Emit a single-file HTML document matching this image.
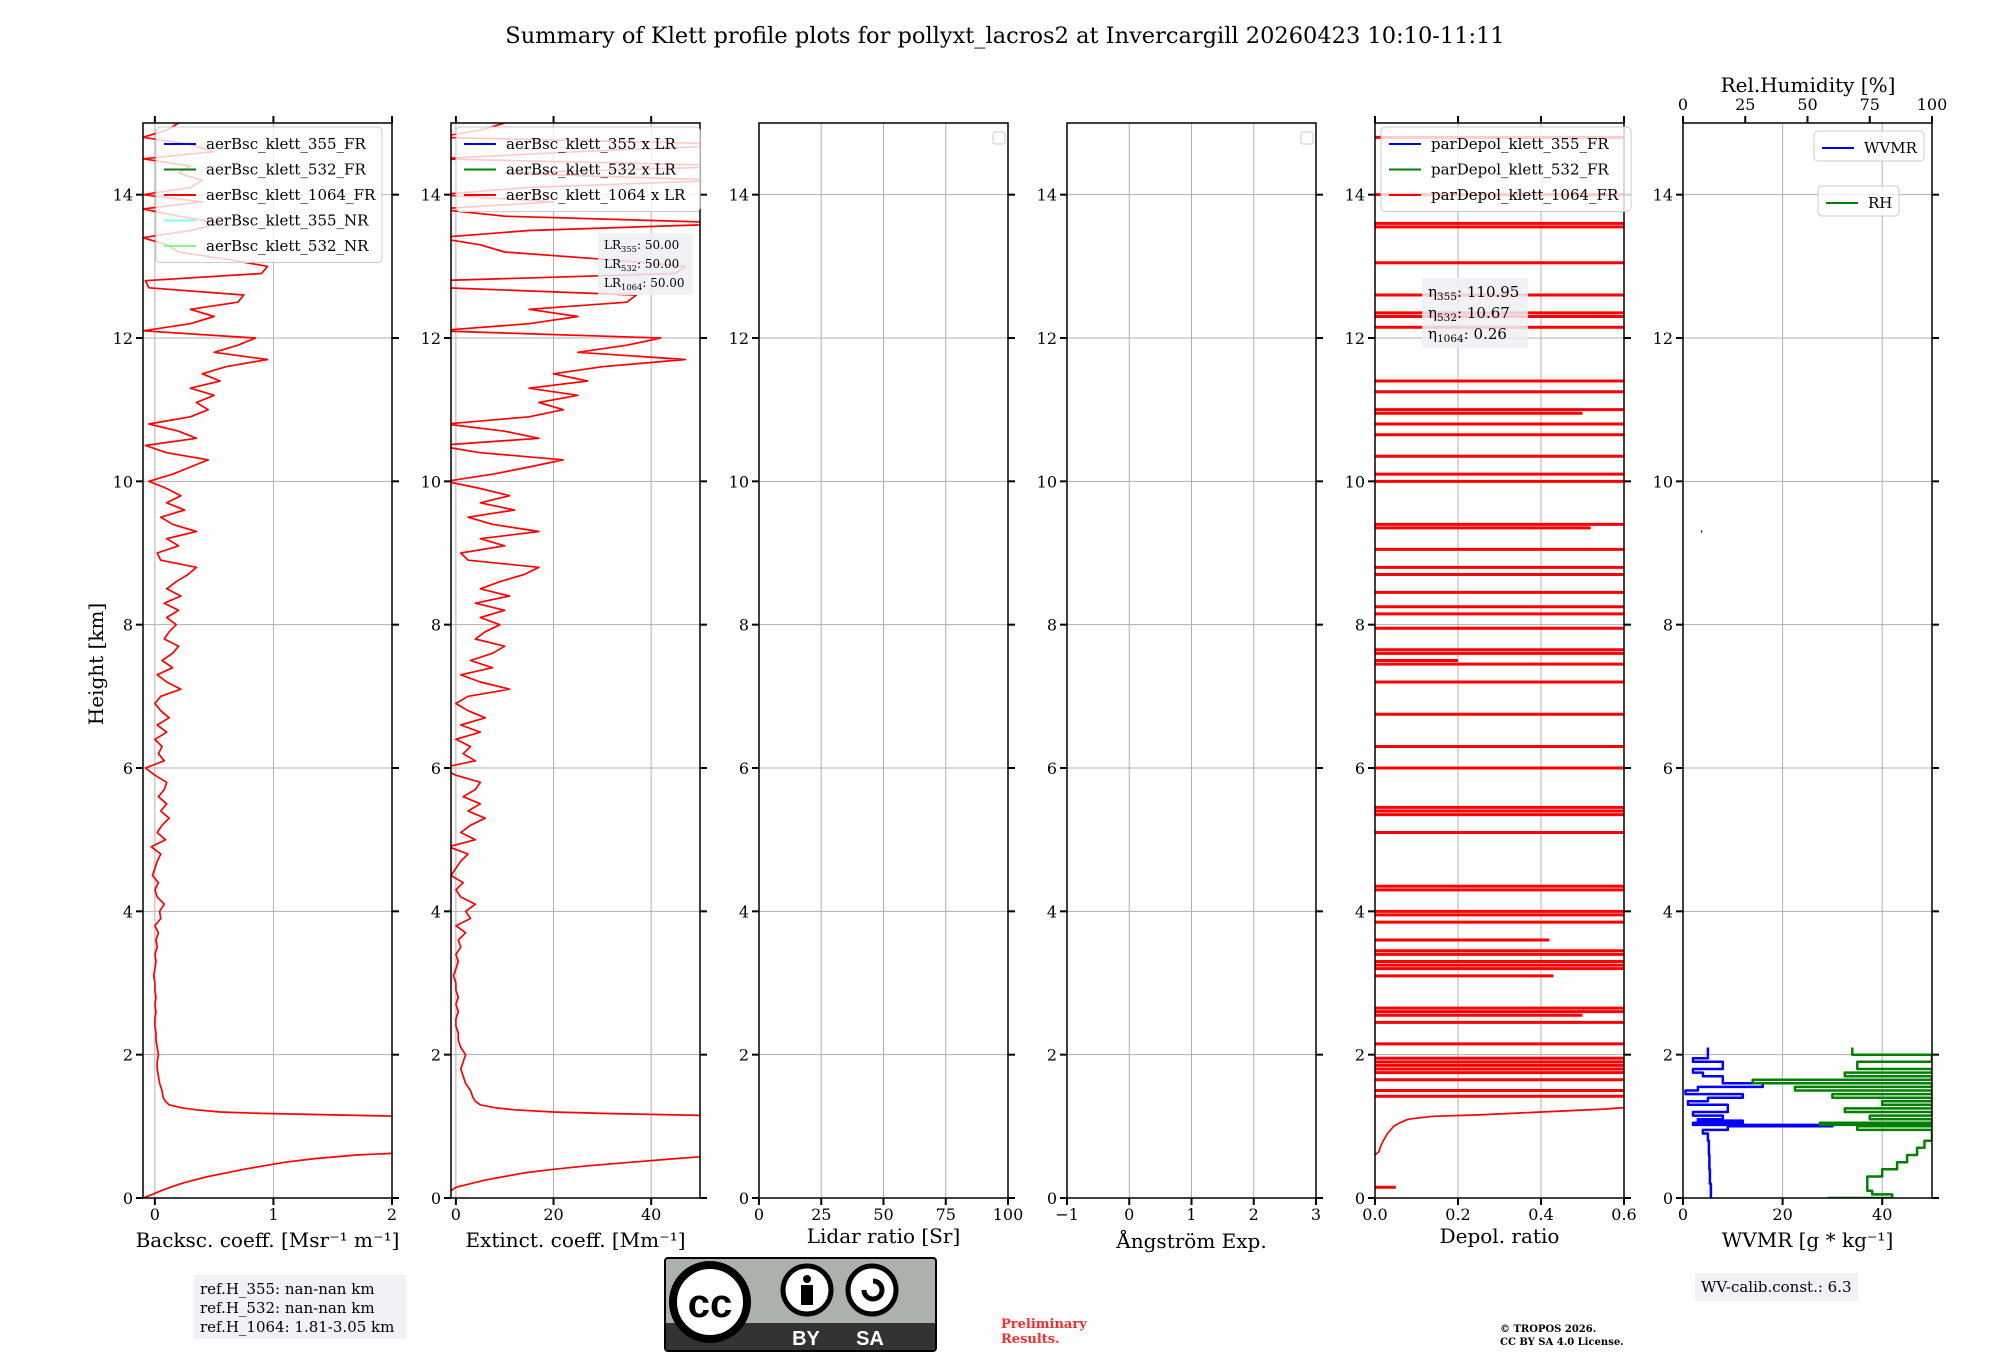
<!DOCTYPE html>
<html><head><meta charset="utf-8">
<style>
html,body{margin:0;padding:0;background:#fff;}
svg{display:block;font-family:"DejaVu Serif","Liberation Serif",serif;}
</style></head>
<body>
<svg id="fig" width="2000" height="1360" viewBox="0 0 2000 1360" xmlns="http://www.w3.org/2000/svg">
<text x="1005" y="43" font-size="22.5" text-anchor="middle">Summary of Klett profile plots for pollyxt_lacros2 at Invercargill 20260423 10:10-11:11</text>
<text transform="translate(103,664) rotate(-90)" font-size="20" text-anchor="middle">Height [km]</text>
</svg>
<script>
// ---- data ----
const heightTicks = [0,2,4,6,8,10,12,14];
const lowH = [0,0.05,0.1,0.15,0.2,0.25,0.3,0.35,0.4,0.45,0.5,0.55,0.6,0.63,1.14,1.16,1.18,1.2,1.23,1.26,1.3,1.35,1.4,1.5,1.6,1.7,1.8,1.9];
const lowBsc = [-0.1,-0.02,0.05,0.13,0.22,0.33,0.45,0.6,0.75,0.92,1.1,1.35,1.7,2.1,2.1,1.5,0.9,0.55,0.35,0.22,0.12,0.09,0.07,0.06,0.04,0.03,0.02,0.02];
const lowExt = [-5,-3,-1,0,3,6,10,14,20,27,36,45,55,60,60,45,30,20,12,8,5,4,3.5,3,2,1.5,1,1.5];
const upBsc = [0.03,0.02,0.01,0.01,0.0,0.0,0.01,0.0,0.01,0.0,
 0.0,-0.01,0.0,0.01,0.0,0.02,0.01,0.03,0.0,0.05,
 0.04,0.08,0.02,0.0,0.03,-0.02,0.0,0.02,0.05,-0.03,
 0.09,0.02,0.06,0.12,0.05,0.1,0.03,0.08,0.1,0.0,
 -0.08,0.08,0.03,0.06,0.0,0.1,0.02,0.12,0.05,0.0,
 0.05,0.22,0.1,0.02,0.15,0.06,0.15,0.2,0.08,0.12,
 0.18,0.1,0.2,0.08,0.22,0.1,0.18,0.28,0.35,0.05,
 0.02,0.2,0.1,0.35,0.15,0.05,0.25,0.1,0.22,0.1,
 -0.05,0.15,0.3,0.45,0.1,-0.08,0.35,0.2,-0.05,0.3,
 0.45,0.35,0.5,0.3,0.55,0.4,0.6,0.95,0.5,0.7,
 0.85,-0.1,0.3,0.5,0.3,0.7,0.75,-0.05,-0.08,0.9,
 0.95,0.6,0.2,0.1,-0.1,0.3,0.55,0.2,-0.1,0.4,
 -0.1,0.3,0.4,0.2,0.3,-0.1,0.5,0.3,-0.1,0.1,0.2];
const upExt = [2,1,0.5,0.5,0,0,0.5,0,0.5,0,
 0,-0.5,0,0.5,0,1,0.5,2,0,3,
 2,4,1,0,1.5,-1,0,1,2.5,-1.5,
 4,1,3,6,2.5,5,1.5,4,5,0,
 -3,4,1.5,3,0,5,1,6,2.5,0,
 2.5,11,5,1,7.5,3,7.5,10,4,6,
 9,5,10,4,11,5,9,14,17,2.5,
 1,10,5,17,7.5,2.5,12,5,11,5,
 -2,7.5,15,22,5,-4,17,10,-2,15,
 22,17,25,15,27,20,30,47,25,35,
 42,-4,15,25,15,35,37,-2,-4,45,
 47,30,10,5,-4,15,60,10,-4,20,
 -4,15,55,10,60,-4,25,60,-4,5,10];
const upStartKm = 2.0, upStepKm = 0.1;
const lrLabels = ["LR355: 50.00","LR532: 50.00","LR1064: 50.00"];
const depolSpikeH = [14.8,14.0,13.6,13.55,13.05,12.6,12.35,12.3,12.15,11.4,11.25,11.0,10.95,10.8,10.65,10.35,10.1,10.0,9.4,9.35,9.05,8.8,8.7,8.45,8.25,8.15,7.95,7.65,7.6,7.5,7.45,7.2,6.75,6.3,6.0,5.45,5.4,5.35,5.1,4.35,4.3,4.0,3.95,3.85,3.6,3.45,3.4,3.3,3.25,3.2,3.1,2.65,2.6,2.55,2.45,2.15,1.95,1.9,1.85,1.8,1.75,1.65,1.5,1.42];
const depolSpikeV = [0.7,0.7,0.7,0.7,0.7,0.7,0.7,0.7,0.7,0.7,0.7,0.7,0.5,0.7,0.7,0.7,0.7,0.7,0.7,0.52,0.7,0.7,0.7,0.7,0.7,0.7,0.7,0.7,0.7,0.2,0.7,0.7,0.7,0.7,0.7,0.7,0.7,0.7,0.7,0.7,0.7,0.7,0.7,0.7,0.42,0.7,0.7,0.7,0.7,0.7,0.43,0.7,0.7,0.5,0.7,0.7,0.7,0.7,0.7,0.7,0.7,0.7,0.7,0.7];
const depolCurveH = [0.6,0.65,0.7,0.8,0.9,1.0,1.05,1.1,1.14,1.16,1.2,1.24,1.27,1.29];
const depolCurveV = [0.0,0.01,0.012,0.02,0.03,0.045,0.06,0.08,0.14,0.25,0.4,0.55,0.62,0.7];
const wvH = [0,0.2,0.4,0.6,0.8,0.9,0.95,1.0,1.02,1.05,1.08,1.1,1.15,1.2,1.3,1.35,1.4,1.45,1.5,1.55,1.6,1.7,1.75,1.8,1.9,1.95,2.05,2.1];
const wvV = [5.5,5.6,5.4,5.3,5.2,5.0,4.0,9.0,30,2.0,12,3.0,8.0,2.0,9.0,1.0,5.0,12.0,0.5,3.0,16.0,8.0,4.0,2.0,8.0,2.0,5.0,5.0];
const rhH = [0,0.05,0.1,0.2,0.3,0.4,0.5,0.6,0.7,0.8,0.9,0.95,1.0,1.02,1.05,1.1,1.15,1.2,1.25,1.3,1.35,1.4,1.45,1.5,1.55,1.6,1.65,1.7,1.75,1.8,1.9,2.0,2.1];
const rhV = [58,84,76,74,74,80,86,90,94,97,100,100,70,100,55,100,75,100,65,100,80,100,60,100,45,100,28,100,65,100,70,100,68];
const etaLabels = ["η355: 110.95","η532: 10.67","η1064: 0.26"];

// ---- layout ----
const SVGNS = "http://www.w3.org/2000/svg";
const fig = document.getElementById('fig');
const TOP = 123, BOT = 1198, W = 249;
const lefts = [143,451,759,1067,1375,1683];
const ymap = h => BOT - (h/15)*(BOT-TOP);
function mk(tag, attrs, parent){
  const e = document.createElementNS(SVGNS, tag);
  for (const k in attrs) e.setAttribute(k, attrs[k]);
  (parent||fig).appendChild(e);
  return e;
}
const bscH = lowH.slice();
for (let k=0;k<upBsc.length;k++) bscH.push(+(upStartKm + k*upStepKm).toFixed(2));
const bscV = lowBsc.concat(upBsc);
const extV = lowExt.concat(upExt);

const panels = [
  {xmin:-0.1,xmax:2,ticks:[0,1,2],labels:["0","1","2"],title:"Backsc. coeff. [Msr⁻¹ m⁻¹]",ty:1247,name:"backscatter",topTicks:true},
  {xmin:-1,xmax:50,ticks:[0,20,40],labels:["0","20","40"],title:"Extinct. coeff. [Mm⁻¹]",ty:1247,name:"extinction",topTicks:true},
  {xmin:0,xmax:100,ticks:[0,25,50,75,100],labels:["0","25","50","75","100"],title:"Lidar ratio [Sr]",ty:1243,name:"lidar-ratio",topTicks:false},
  {xmin:-1,xmax:3,ticks:[-1,0,1,2,3],labels:["−1","0","1","2","3"],title:"Ångström Exp.",ty:1248,name:"angstrom",topTicks:false},
  {xmin:0,xmax:0.6,ticks:[0,0.2,0.4,0.6],labels:["0.0","0.2","0.4","0.6"],title:"Depol. ratio",ty:1243,name:"depol",topTicks:true},
  {xmin:0,xmax:50,ticks:[0,20,40],labels:["0","20","40"],title:"WVMR [g * kg⁻¹]",ty:1247,name:"wvmr",topTicks:false}
];
panels.forEach((p,i)=>{
  const L = lefts[i];
  p.x = v => L + (v-p.xmin)/(p.xmax-p.xmin)*W;
  const g = mk('g',{});
  
  
  p.g = g;
  const cp = mk('clipPath',{id:'clip'+i}, g);
  mk('rect',{x:L,y:TOP,width:W,height:BOT-TOP}, cp);
  p.ticks.forEach(t=>{
    const gl = mk('line',{x1:p.x(t),x2:p.x(t),y1:TOP,y2:BOT,stroke:'#b0b0b0','stroke-width':1}, g);
    
    
  });
  heightTicks.forEach(h=>{
    const gl = mk('line',{x1:L,x2:L+W,y1:ymap(h),y2:ymap(h),stroke:'#b0b0b0','stroke-width':1}, g);
    
    
  });
  p.plot = mk('g',{'clip-path':'url(#clip'+i+')'}, g);
  
  
});

function drawLine(p, xs, hs, color, width, name, step){
  let d = '';
  xs.forEach((v,k)=>{
    if (step && k>0) d += 'L' + p.x(v).toFixed(1) + ',' + ymap(hs[k-1]).toFixed(1);
    d += (k?'L':'M') + p.x(v).toFixed(1) + ',' + ymap(hs[k]).toFixed(1);
  });
  const e = mk('path',{d:d,fill:'none',stroke:color,'stroke-width':width,'stroke-linejoin':'round'}, p.plot);
  
  
  return e;
}
drawLine(panels[0], bscV, bscH, '#ff0000', 1.7, 'aerbsc-1064-fr-line', false);
drawLine(panels[1], extV, bscH, '#ff0000', 1.7, 'extinction-1064-line', false);
depolSpikeH.forEach((h,k)=>{
  const p = panels[4];
  const e = mk('line',{x1:p.x(0),x2:p.x(depolSpikeV[k]),y1:ymap(h),y2:ymap(h),stroke:'#ff0000','stroke-width':3}, p.plot);
  
  
});
drawLine(panels[4], depolCurveV, depolCurveH, '#ff0000', 1.7, 'depol-1064-line', false);
drawLine(panels[4], [0,0.05], [0.15,0.15], '#ff0000', 3, 'depol-1064-low-segment', false);
drawLine(panels[5], wvV, wvH, '#0000ff', 2.5, 'wvmr-line', true);
const rhP = {x: v => lefts[5] + v/100*W, plot: panels[5].plot};
drawLine(rhP, rhV, rhH, '#008000', 2.5, 'rh-line', true);
drawLine(panels[5], [3.6,3.9], [9.3,9.3], '#0000ff', 2, 'wvmr-isolated-point', false);

panels.forEach((p,i)=>{
  const L = lefts[i], g = p.g;
  const sp = mk('rect',{x:L,y:TOP,width:W,height:BOT-TOP,fill:'none',stroke:'#000','stroke-width':1.5}, g);
  
  
  p.ticks.forEach((t,k)=>{
    const tk = mk('line',{x1:p.x(t),x2:p.x(t),y1:BOT,y2:BOT+7,stroke:'#000','stroke-width':2}, g);
    
    
    if (p.topTicks){
      const tt = mk('line',{x1:p.x(t),x2:p.x(t),y1:TOP,y2:TOP-7,stroke:'#000','stroke-width':2}, g);
      
      
    }
    const tl = mk('text',{x:p.x(t),y:BOT+22,'font-size':16,'text-anchor':'middle'}, g);
    tl.textContent = p.labels[k];
    
    
  });
  heightTicks.forEach(h=>{
    const a = mk('line',{x1:L-7,x2:L,y1:ymap(h),y2:ymap(h),stroke:'#000','stroke-width':2}, g);
    
    
    const b = mk('line',{x1:L+W,x2:L+W+7,y1:ymap(h),y2:ymap(h),stroke:'#000','stroke-width':2}, g);
    
    
    const tl = mk('text',{x:L-10,y:ymap(h)+6,'font-size':16,'text-anchor':'end'}, g);
    tl.textContent = String(h);
    
    
  });
  const xt = mk('text',{x:L+W/2,y:p.ty,'font-size':20,'text-anchor':'middle'}, g);
  xt.textContent = p.title;
  
  
});
const rhTicks = [0,25,50,75,100];
rhTicks.forEach(t=>{
  const x = lefts[5] + t/100*W;
  const tk = mk('line',{x1:x,x2:x,y1:TOP,y2:TOP-7,stroke:'#000','stroke-width':2});
  
  
  const tl = mk('text',{x:x,y:110,'font-size':16,'text-anchor':'middle'});
  tl.textContent = String(t);
  
  
});
const rhTitle = mk('text',{x:1808,y:92,'font-size':20,'text-anchor':'middle'});
rhTitle.textContent = 'Rel.Humidity [%]';



function legend(x,y,w,entries,rowH,name){
  const g = mk('g',{});
  
  
  const bx = mk('rect',{x:x,y:y,width:w,height:entries.length*rowH+8,rx:4,fill:'#fff','fill-opacity':0.8,stroke:'#ccc','stroke-width':1}, g);
  
  
  entries.forEach((en,k)=>{
    const cy = y + 17 + k*rowH;
    const ln = mk('line',{x1:x+8,x2:x+40,y1:cy,y2:cy,stroke:en[1],'stroke-width':2}, g);
    
    
    const t = mk('text',{x:x+50,y:cy+5,'font-size':15}, g);
    t.textContent = en[0];
    
    
  });
}
legend(156,127,226,[["aerBsc_klett_355_FR","#0000ff"],["aerBsc_klett_532_FR","#008000"],["aerBsc_klett_1064_FR","#ff0000"],["aerBsc_klett_355_NR","#80ffff"],["aerBsc_klett_532_NR","#80ff80"]],25.5,'backscatter-legend');
legend(456,127,244,[["aerBsc_klett_355 x LR","#0000ff"],["aerBsc_klett_532 x LR","#008000"],["aerBsc_klett_1064 x LR","#ff0000"]],25.5,'extinction-legend');
legend(1381,127,250,[["parDepol_klett_355_FR","#0000ff"],["parDepol_klett_532_FR","#008000"],["parDepol_klett_1064_FR","#ff0000"]],25.5,'depol-legend');
legend(1814,131,110,[["WVMR","#0000ff"]],22,'wvmr-legend');
legend(1818,186,81,[["RH","#008000"]],22,'rh-legend');
[[993,132],[1301,132]].forEach(pt=>{
  const e = mk('rect',{x:pt[0],y:pt[1],width:12,height:12,rx:2,fill:'#fff',stroke:'#ccc'});
  
  
});
function infoBox(x,y,w,h,lines,fs,lh,name,sub){
  const g = mk('g',{});
  
  
  const r = mk('rect',{x:x,y:y,width:w,height:h,fill:'#eef0f5','fill-opacity':0.85}, g);
  
  
  lines.forEach((s,k)=>{
    const t = mk('text',{x:x+6,y:y+fs+4+k*lh,'font-size':fs}, g);
    if (sub){
      const m = s.match(/^(LR|η)(\d+)(:.*)$/);
      const a = document.createElementNS(SVGNS,'tspan'); a.textContent = m[1]; t.appendChild(a);
      const b = document.createElementNS(SVGNS,'tspan'); b.textContent = m[2]; b.setAttribute('font-size', fs*0.7); b.setAttribute('dy', 3); t.appendChild(b);
      const c = document.createElementNS(SVGNS,'tspan'); c.textContent = m[3]; c.setAttribute('dy', -3); t.appendChild(c);
    } else t.textContent = s;
    
    
  });
}
infoBox(598,233,95,62,lrLabels,12,19,'lidar-ratio-box',true);
infoBox(1422,278,106,70,etaLabels,15,21,'eta-box',true);
infoBox(194,1275,212,64,["ref.H_355: nan-nan km","ref.H_532: nan-nan km","ref.H_1064: 1.81-3.05 km"],15,19,'reference-height-box',false);
infoBox(1695,1273,163,28,["WV-calib.const.: 6.3"],15,20,'wv-calib-box',false);

const cc = mk('g',{});


const b1 = mk('rect',{x:665,y:1258,width:271,height:93,rx:3,fill:'#aab2ab',stroke:'#000','stroke-width':2}, cc);


const b2 = mk('rect',{x:666,y:1323,width:269,height:27,fill:'#333'}, cc);


const c1 = mk('circle',{cx:710,cy:1302,r:37,fill:'#fff',stroke:'#000','stroke-width':8}, cc);


const ct = mk('text',{x:710,y:1317,'font-size':40,'font-weight':'bold','text-anchor':'middle','font-family':'Liberation Sans, sans-serif'}, cc);
ct.textContent = 'cc';


[[807,'by-icon'],[872,'sa-icon']].forEach(a=>{
  const c = mk('circle',{cx:a[0],cy:1290,r:24,fill:'#fff',stroke:'#000','stroke-width':5}, cc);
  
  
});
const hd = mk('circle',{cx:807,cy:1279,r:4}, cc);


const bd = mk('rect',{x:801,y:1285,width:12,height:20}, cc);


const sa = mk('path',{d:'M864,1290 a9,9 0 1,0 9,-9',fill:'none',stroke:'#000','stroke-width':5}, cc);


[[806,'BY'],[870,'SA']].forEach(a=>{
  const t = mk('text',{x:a[0],y:1345,'font-size':20,'font-weight':'bold',fill:'#fff','text-anchor':'middle','font-family':'Liberation Sans, sans-serif'}, cc);
  t.textContent = a[1];
  
  
});
const pr1 = mk('text',{x:1001,y:1328,'font-size':13,'font-weight':'bold',fill:'#ff2a2a'});
pr1.textContent = 'Preliminary';


const pr2 = mk('text',{x:1001,y:1343,'font-size':13,'font-weight':'bold',fill:'#ff2a2a'});
pr2.textContent = 'Results.';


const tr1 = mk('text',{x:1500,y:1332,'font-size':10,'font-weight':'bold'});
tr1.textContent = '© TROPOS 2026.';


const tr2 = mk('text',{x:1500,y:1345,'font-size':10,'font-weight':'bold'});
tr2.textContent = 'CC BY SA 4.0 License.';


</script>
</body></html>
